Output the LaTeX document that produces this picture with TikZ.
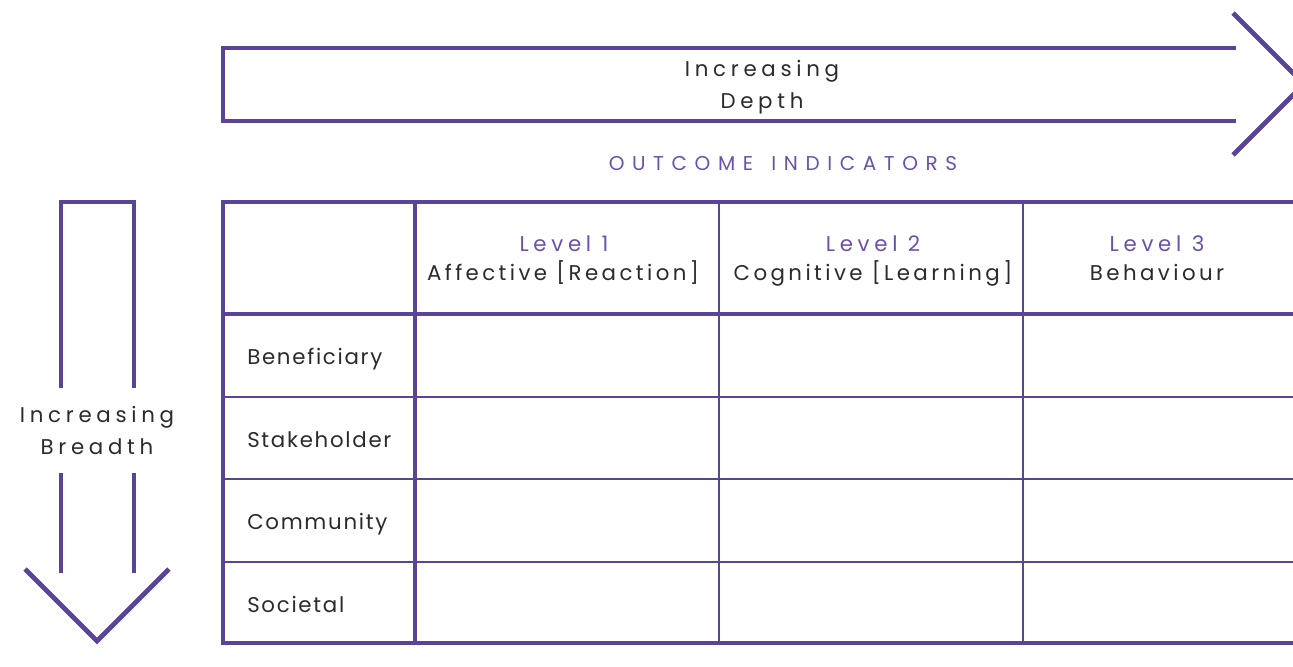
\documentclass[tikz,border=0pt]{standalone}
\usepackage{fontspec}
\usepackage{xcolor}
\setmainfont{Poppins}[LetterSpace=8]
\newfontfamily\headface{Poppins}[LetterSpace=16]
\newfontfamily\arrowface{Poppins}[LetterSpace=22]
\newfontfamily\wideface{Poppins}[LetterSpace=38]
\definecolor{ioPurple}{HTML}{5B4397}
\definecolor{ioLevel}{HTML}{6A51AB}
\definecolor{ioText}{HTML}{2B2B2B}

\begin{document}
\begin{tikzpicture}[x=0.75pt,y=-0.75pt,
    thick line/.style={draw=ioPurple,line width=3.6pt,line join=miter},
    thin line/.style={draw=ioPurple,line width=2.2pt},
    label/.style={text=ioText,font=\fontsize{16}{24}\selectfont,align=center,inner sep=0pt},
    arrow label/.style={label,font=\arrowface\fontsize{16}{24}\selectfont},
    head/.style={label,font=\headface\fontsize{16}{24}\selectfont,anchor=base},
    level/.style={text=ioLevel,font=\arrowface\fontsize{16}{24}\selectfont,inner sep=0pt,anchor=base},
    row label/.style={label,anchor=base west}]
    \useasboundingbox (0,0) rectangle (1293,667);
    \clip (0,0) rectangle (1293,667);
    % Depth arrow
    \draw[thick line] (1236,48) -- (223,48) -- (223,121) -- (1236,121);
    \draw[thick line] (1233,13) -- (1304,84) -- (1233,155);
    \node[arrow label] (depth) at (762,87) {Increasing\\Depth};
    \node[text=ioLevel,font=\wideface\fontsize{15}{18}\selectfont,inner sep=0pt] (indicators) at (783,164) {OUTCOME\hspace{4pt} INDICATORS};
    % Breadth arrow
    \draw[thick line] (61,388) -- (61,202) -- (134,202) -- (134,388);
    \draw[thick line] (61,473) -- (61,573);
    \draw[thick line] (134,473) -- (134,573);
    \draw[thick line] (25,569) -- (97,641) -- (169,569);
    \node[arrow label] (breadth) at (97,430) {Increasing\\Breadth};
    % Table grid
    \draw[thick line] (1310,202) -- (223,202) -- (223,643) -- (1310,643);
    \draw[thick line] (223,314) -- (1310,314);
    \draw[thick line] (415,202) -- (415,643);
    \draw[thin line] (719,202) -- (719,643);
    \draw[thin line] (1023,202) -- (1023,643);
    \draw[thin line] (223,397) -- (1310,397);
    \draw[thin line] (223,479) -- (1310,479);
    \draw[thin line] (223,562) -- (1310,562);
    % Column heads
    \node[level] (lvlA) at (564,251) {Level 1};
    \node[head] (affective) at (563,280) {Affective [Reaction]};
    \node[level] (lvlB) at (873,251) {Level 2};
    \node[head] (cognitive) at (873,280) {Cognitive [Learning]};
    \node[level] (lvlC) at (1157,251) {Level 3};
    \node[head] (behaviour) at (1157,280) {Behaviour};
    % Row heads
    \node[row label] (beneficiary) at (247,364) {Beneficiary};
    \node[row label] (stakeholder) at (247,447) {Stakeholder};
    \node[row label] (community) at (247,529) {Community};
    \node[row label] (societal) at (247,612) {Societal};
\end{tikzpicture}
\end{document}
